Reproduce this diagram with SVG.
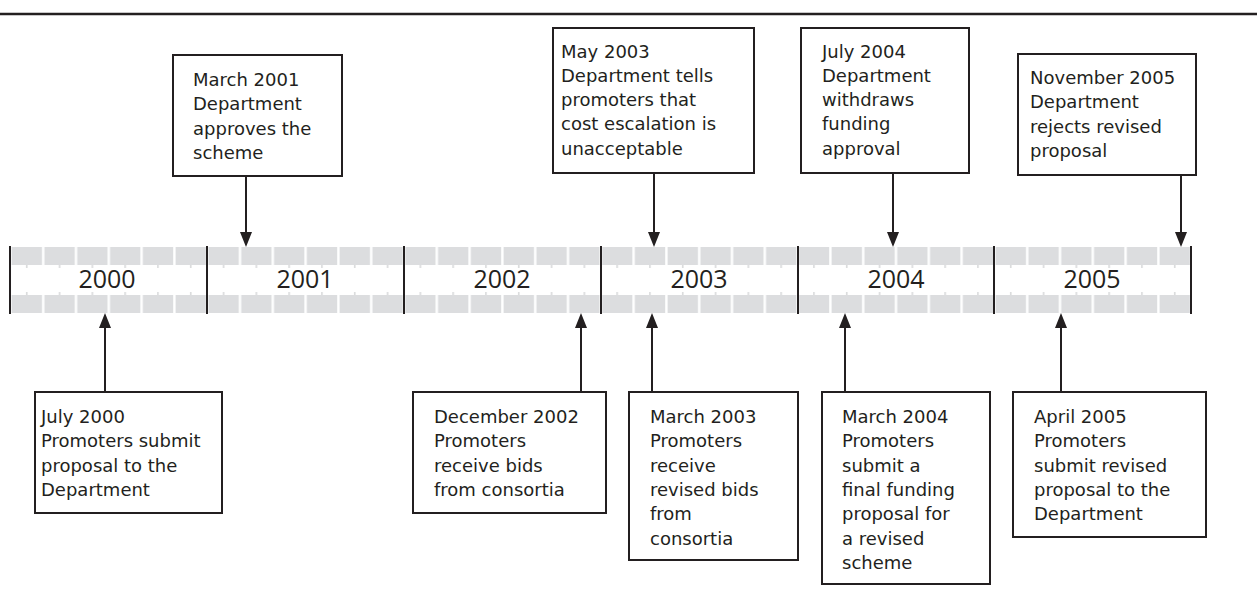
<svg xmlns="http://www.w3.org/2000/svg" width="1257" height="589" viewBox="0 0 1257 589">
<style>
.box{fill:#fff;stroke:#231f20;stroke-width:2}
.t{font-family:"DejaVu Sans",sans-serif;font-size:18px;fill:#231f20}
.yr{font-family:"Open Sans","DejaVu Sans",sans-serif;font-size:25px;fill:#231f20;text-anchor:middle}
.ln{stroke:#231f20;stroke-width:2;fill:none}
.ah{fill:#231f20}
.div{stroke:#231f20;stroke-width:2}
</style>
<defs>
<pattern id="cells" patternUnits="userSpaceOnUse" x="10" y="247" width="32.8" height="66">
<rect x="1.6" y="0" width="30.4" height="18" fill="#dcdddf"/>
<rect x="16" y="18" width="1.5" height="3" fill="#d6d7d9"/>
<rect x="1.6" y="48" width="30.4" height="18" fill="#dcdddf"/>
<rect x="16" y="45" width="1.5" height="3" fill="#d6d7d9"/>
</pattern>
</defs>
<rect width="1257" height="589" fill="#fff"/>
<line x1="0" y1="14" x2="1257" y2="14" stroke="#231f20" stroke-width="2.5"/>
<g id="timeline">
<rect x="10" y="247" width="1181" height="66" fill="url(#cells)"/>
<line class="div" x1="10" y1="246" x2="10" y2="314"/>
<line class="div" x1="207" y1="246" x2="207" y2="314"/>
<line class="div" x1="404" y1="246" x2="404" y2="314"/>
<line class="div" x1="601" y1="246" x2="601" y2="314"/>
<line class="div" x1="798" y1="246" x2="798" y2="314"/>
<line class="div" x1="994" y1="246" x2="994" y2="314"/>
<line class="div" x1="1191" y1="246" x2="1191" y2="314"/>
<text class="yr" x="107" y="288">2000</text>
<text class="yr" x="305" y="288">2001</text>
<text class="yr" x="502" y="288">2002</text>
<text class="yr" x="699" y="288">2003</text>
<text class="yr" x="896" y="288">2004</text>
<text class="yr" x="1092" y="288">2005</text>
</g>
<g id="connectors">
<line class="ln" x1="246" y1="176" x2="246" y2="233"/><polygon class="ah" points="240,232 252,232 246,247"/>
<line class="ln" x1="654" y1="173" x2="654" y2="233"/><polygon class="ah" points="648,232 660,232 654,247"/>
<line class="ln" x1="893" y1="173" x2="893" y2="233"/><polygon class="ah" points="887,232 899,232 893,247"/>
<line class="ln" x1="1181" y1="175" x2="1181" y2="233"/><polygon class="ah" points="1175,232 1187,232 1181,247"/>
<line class="ln" x1="105" y1="392" x2="105" y2="327"/><polygon class="ah" points="99,328 111,328 105,313"/>
<line class="ln" x1="581" y1="392" x2="581" y2="327"/><polygon class="ah" points="575,328 587,328 581,313"/>
<line class="ln" x1="652" y1="392" x2="652" y2="327"/><polygon class="ah" points="646,328 658,328 652,313"/>
<line class="ln" x1="845" y1="392" x2="845" y2="327"/><polygon class="ah" points="839,328 851,328 845,313"/>
<line class="ln" x1="1061" y1="392" x2="1061" y2="327"/><polygon class="ah" points="1055,328 1067,328 1061,313"/>
</g>
<g id="n-mar2001">
<rect class="box" x="173" y="55" width="169" height="121"/>
<text class="t" x="193" y="86">March 2001</text>
<text class="t" x="193" y="110.3">Department</text>
<text class="t" x="193" y="134.6">approves the</text>
<text class="t" x="193" y="158.9">scheme</text>
</g>
<g id="n-may2003">
<rect class="box" x="553" y="28" width="201" height="145"/>
<text class="t" x="561" y="57.5">May 2003</text>
<text class="t" x="561" y="81.8">Department tells</text>
<text class="t" x="561" y="106.1">promoters that</text>
<text class="t" x="561" y="130.4">cost escalation is</text>
<text class="t" x="561" y="154.7">unacceptable</text>
</g>
<g id="n-jul2004">
<rect class="box" x="801" y="28" width="168" height="145"/>
<text class="t" x="822" y="57.5">July 2004</text>
<text class="t" x="822" y="81.8">Department</text>
<text class="t" x="822" y="106.1">withdraws</text>
<text class="t" x="822" y="130.4">funding</text>
<text class="t" x="822" y="154.7">approval</text>
</g>
<g id="n-nov2005">
<rect class="box" x="1018" y="54" width="178" height="121"/>
<text class="t" x="1030" y="84">November 2005</text>
<text class="t" x="1030" y="108.3">Department</text>
<text class="t" x="1030" y="132.6">rejects revised</text>
<text class="t" x="1030" y="156.9">proposal</text>
</g>
<g id="n-jul2000">
<rect class="box" x="35" y="392" width="187" height="121"/>
<text class="t" x="41" y="423">July 2000</text>
<text class="t" x="41" y="447.3">Promoters submit</text>
<text class="t" x="41" y="471.6">proposal to the</text>
<text class="t" x="41" y="495.9">Department</text>
</g>
<g id="n-dec2002">
<rect class="box" x="413" y="392" width="193" height="121"/>
<text class="t" x="434" y="423">December 2002</text>
<text class="t" x="434" y="447.3">Promoters</text>
<text class="t" x="434" y="471.6">receive bids</text>
<text class="t" x="434" y="495.9">from consortia</text>
</g>
<g id="n-mar2003">
<rect class="box" x="629" y="392" width="169" height="168"/>
<text class="t" x="650" y="423">March 2003</text>
<text class="t" x="650" y="447.3">Promoters</text>
<text class="t" x="650" y="471.6">receive</text>
<text class="t" x="650" y="495.9">revised bids</text>
<text class="t" x="650" y="520.2">from</text>
<text class="t" x="650" y="544.5">consortia</text>
</g>
<g id="n-mar2004">
<rect class="box" x="822" y="392" width="168" height="192"/>
<text class="t" x="842" y="423">March 2004</text>
<text class="t" x="842" y="447.3">Promoters</text>
<text class="t" x="842" y="471.6">submit a</text>
<text class="t" x="842" y="495.9">final funding</text>
<text class="t" x="842" y="520.2">proposal for</text>
<text class="t" x="842" y="544.5">a revised</text>
<text class="t" x="842" y="568.8">scheme</text>
</g>
<g id="n-apr2005">
<rect class="box" x="1013" y="392" width="193" height="145"/>
<text class="t" x="1034" y="423">April 2005</text>
<text class="t" x="1034" y="447.3">Promoters</text>
<text class="t" x="1034" y="471.6">submit revised</text>
<text class="t" x="1034" y="495.9">proposal to the</text>
<text class="t" x="1034" y="520.2">Department</text>
</g>
</svg>
